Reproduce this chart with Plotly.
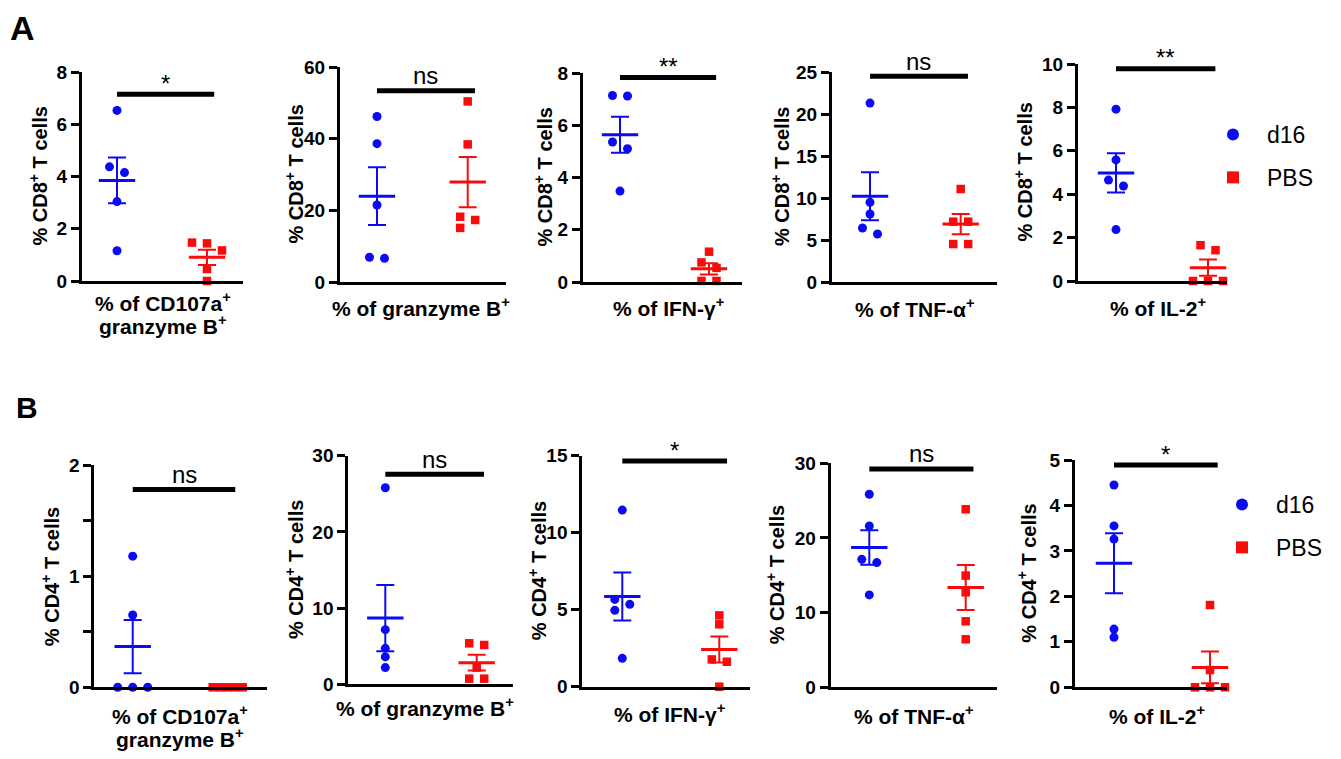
import numpy as np
import plotly.graph_objects as go

# ---------------- data ----------------
panel_labels = ["A", "B"]
y_titles = ["% CD8<sup>+</sup> T cells", "% CD4<sup>+</sup> T cells"]
x_titles = ["% of CD107a<sup>+</sup><br>granzyme B<sup>+</sup>", "% of granzyme B<sup>+</sup>",
            "% of IFN-γ<sup>+</sup>", "% of TNF-α<sup>+</sup>", "% of IL-2<sup>+</sup>"]
groups = ["d16", "PBS"]

cd8_d16 = [[6.53, 4.37, 4.15, 3.04, 1.16],
           [46.2, 38.6, 21.5, 6.9, 6.6],
           [7.14, 7.12, 5.36, 5.10, 3.48],
           [21.3, 9.48, 8.10, 6.43, 5.71],
           [7.92, 5.58, 4.65, 4.38, 2.37]]
cd8_pbs = [[1.47, 1.44, 1.17, 0.46, 0.0],
           [50.4, 38.4, 18.2, 17.3, 15.1],
           [1.16, 0.75, 0.54, 0.04, 0.04],
           [11.07, 7.18, 7.18, 4.52, 4.52],
           [1.65, 1.42, 0.0, 0.0, 0.0]]
cd4_d16 = [[1.18, 0.65, 0.0, 0.0, 0.0],
           [25.8, 7.17, 4.72, 3.59, 2.19],
           [11.47, 5.67, 5.35, 4.96, 1.84],
           [25.85, 21.6, 17.14, 16.7, 12.37],
           [4.45, 3.55, 3.26, 1.28, 1.10]]
cd4_pbs = [[0.0, 0.0, 0.0, 0.0, 0.0],
           [5.38, 5.16, 2.19, 0.74, 0.74],
           [4.63, 4.05, 1.77, 1.62, 0.0],
           [23.84, 14.96, 12.72, 8.84, 6.43],
           [1.81, 0.38, 0.0, 0.0, 0.0]]

cd8_ymax = [8, 60, 8, 25, 10]
cd8_dtick = [2, 20, 2, 5, 2]
cd4_ymax = [2, 30, 15, 30, 5]
cd4_dtick = [1, 10, 5, 10, 1]

cd8_sig = ["*", "ns", "**", "ns", "**"]
cd8_sig_y = [7.15, 53.4, 7.83, 24.5, 9.78]
cd4_sig = ["ns", "ns", "*", "ns", "*"]
cd4_sig_y = [1.78, 27.55, 14.65, 29.24, 4.89]

# ---------------- layout geometry (screen pixels) ----------------
W, H, OFF = 1325, 743, 8
def px(X):
    return (X - OFF) / W
def py(Y):
    return 1 - (Y - OFF) / H

# left, center1, center2, right, top, bottom
geom = [
    [(82, 117, 207, 243, 72, 281), (340, 377, 467.7, 506, 67, 282), (583, 620, 709, 742, 73, 282),
     (832, 870, 960.7, 997, 72, 282), (1078, 1116, 1208, 1227, 64, 281)],
    [(94.3, 132.7, 227.7, 266.7, 465, 687.3), (348.3, 385.3, 476.7, 513, 455.7, 684.3),
     (582.3, 622.3, 719.3, 750, 455.7, 686.7), (830.7, 869.3, 965.7, 997, 463.3, 687.3),
     (1075, 1114, 1210, 1227, 460, 687.3)],
]
ytitle_x = [[38, 294, 543, 780, 1023], [50, 294, 537, 775, 1027]]
xtitle_pos = [[(163, 313), (421, 307), (668, 307), (914, 308), (1158, 307)],
              [(180, 726), (425, 707), (669, 713), (913, 715), (1157, 715)]]
XTITLE_GAP = 23

BLUE = "rgb(10,10,245)"
RED = "rgb(250,10,10)"
FONT = "Liberation Sans, Arial, Helvetica, sans-serif"


def swarm_offsets(vals, ppu, thr=8.0, step=15.0, maxspan=30.0):
    vals = np.asarray(vals, dtype=float)
    order = list(np.argsort(-vals, kind="stable"))
    offs = np.zeros(len(vals))
    clusters, cur = [], [order[0]]
    for i in order[1:]:
        if (vals[cur[-1]] - vals[i]) * ppu < thr:
            cur.append(i)
        else:
            clusters.append(cur)
            cur = [i]
    clusters.append(cur)
    for cl in clusters:
        n = len(cl)
        if n == 1:
            continue
        span = (vals[cl[0]] - vals[cl[-1]]) * ppu
        if span < thr:
            s = min(step, maxspan / (n - 1))
            for k, i in enumerate(cl):
                offs[i] = (k - (n - 1) / 2) * s
        else:
            for k, i in enumerate(cl):
                offs[i] = (-1 if k % 2 == 0 else 1) * step / 2
    return offs


fig = go.Figure()
layout_axes = {}
annotations = []

rows = [(cd8_d16, cd8_pbs, cd8_ymax, cd8_dtick, cd8_sig, cd8_sig_y),
        (cd4_d16, cd4_pbs, cd4_ymax, cd4_dtick, cd4_sig, cd4_sig_y)]

idx = 0
for r, (d16, pbs, ymaxs, dticks, sig, sig_y) in enumerate(rows):
    for c in range(5):
        idx += 1
        sfx = "" if idx == 1 else str(idx)
        xa, ya = "x" + sfx, "y" + sfx
        L, C1, C2, R, T, Bt = geom[r][c]
        upx = C2 - C1  # pixels per x unit
        xmin = 1 - (C1 - L) / upx
        xmax = 2 + (R - C2) / upx
        ymax = ymaxs[c]
        ppu = (Bt - T) / ymax

        layout_axes["xaxis" + sfx] = dict(
            domain=[px(L), px(R)], range=[xmin, xmax], anchor=ya,
            showline=True, linewidth=3, linecolor="black", ticks="",
            showticklabels=False, showgrid=False, zeroline=False, fixedrange=True)
        yax = dict(
            domain=[py(Bt), py(T)], range=[0, ymax], anchor=xa,
            tickmode="linear", tick0=0, dtick=dticks[c],
            showline=True, linewidth=3, linecolor="black",
            ticks="outside", ticklen=8, tickwidth=3, tickcolor="black",
            tickfont=dict(family=FONT, size=19, color="black", weight="bold"),
            showgrid=False, zeroline=False, fixedrange=True)
        if r == 1 and c == 0:
            yax["minor"] = dict(tickmode="linear", tick0=0, dtick=0.5, ticks="outside",
                                ticklen=8, tickwidth=3, tickcolor="black", showgrid=False)
        layout_axes["yaxis" + sfx] = yax

        for g, (vals, color, sym, size) in enumerate(
                [(d16[c], BLUE, "circle", 9), (pbs[c], RED, "square", 8.5)]):
            xc = g + 1
            offs = swarm_offsets(vals, ppu) / upx
            fig.add_trace(go.Scatter(
                x=xc + offs, y=vals, mode="markers", xaxis=xa, yaxis=ya,
                marker=dict(symbol=sym, size=size, color=color, line=dict(width=0)),
                showlegend=False, cliponaxis=False, hoverinfo="skip"))
            arr = np.asarray(vals, dtype=float)
            mean = arr.mean()
            sem = arr.std(ddof=1) / np.sqrt(len(arr))
            fig.add_trace(go.Scatter(
                x=[xc], y=[mean], mode="markers", xaxis=xa, yaxis=ya,
                marker=dict(symbol="line-ew", size=26, color=color,
                            line=dict(width=3, color=color)),
                error_y=dict(type="data", array=[sem], symmetric=True,
                             thickness=2, width=9, color=color),
                showlegend=False, cliponaxis=False, hoverinfo="skip"))

        # significance bar
        fig.add_trace(go.Scatter(
            x=[1.0, 2.08], y=[sig_y[c], sig_y[c]], mode="lines", xaxis=xa, yaxis=ya,
            line=dict(color="black", width=5), showlegend=False, cliponaxis=False,
            hoverinfo="skip"))
        annotations.append(dict(
            x=1.54, y=sig_y[c], xref=xa, yref=ya, text=sig[c], showarrow=False,
            xanchor="center", yanchor="middle",
            yshift=(11 if "*" in sig[c] else 15),
            font=dict(family=FONT, size=24, color="black")))

        # axis titles
        annotations.append(dict(
            x=px(ytitle_x[r][c]), y=py((T + Bt) / 2), xref="paper", yref="paper",
            text="<b>" + y_titles[r] + "</b>", textangle=-90, showarrow=False,
            xanchor="center", yanchor="middle",
            font=dict(family=FONT, size=20, color="black")))
        tx, ty = xtitle_pos[r][c]
        lines = x_titles[c].split("<br>")
        for k, line in enumerate(lines):
            ly = ty + (k - (len(lines) - 1) / 2) * XTITLE_GAP
            annotations.append(dict(
                x=px(tx), y=py(ly), xref="paper", yref="paper",
                text="<b>" + line + "</b>", showarrow=False,
                xanchor="center", yanchor="middle",
                font=dict(family=FONT, size=21, color="black")))

    # legend entries for this row
    lg = "legend" if r == 0 else "legend2"
    first = "" if r == 0 else "6"
    for g, (name, color, sym) in enumerate([(groups[0], BLUE, "circle"), (groups[1], RED, "square")]):
        fig.add_trace(go.Scatter(
            x=[None], y=[None], mode="markers", xaxis="x" + first, yaxis="y" + first,
            marker=dict(symbol=sym, size=12, color=color),
            name=name, legend=lg, legendgroup=f"{lg}{g}", showlegend=True))

# panel letters
annotations.append(dict(x=px(22), y=py(28), xref="paper", yref="paper", text="<b>" + panel_labels[0] + "</b>",
                        showarrow=False, xanchor="center", yanchor="middle",
                        font=dict(family=FONT, size=34, color="black")))
annotations.append(dict(x=px(27), y=py(407), xref="paper", yref="paper", text="<b>" + panel_labels[1] + "</b>",
                        showarrow=False, xanchor="center", yanchor="middle",
                        font=dict(family=FONT, size=30, color="black")))

legend_common = dict(font=dict(family=FONT, size=23, color="black"), bgcolor="rgba(0,0,0,0)",
                     itemwidth=58, tracegroupgap=10, traceorder="grouped",
                     xanchor="left", yanchor="top", itemclick=False, itemdoubleclick=False)

fig.update_layout(
    width=W, height=H, margin=dict(l=0, r=0, t=0, b=0, autoexpand=False),
    paper_bgcolor="white", plot_bgcolor="white",
    annotations=annotations,
    legend=dict(x=px(1199), y=py(113), **legend_common),
    legend2=dict(x=px(1208), y=py(483), **legend_common),
    showlegend=True,
    **layout_axes)

fig.write_html("out.html")
